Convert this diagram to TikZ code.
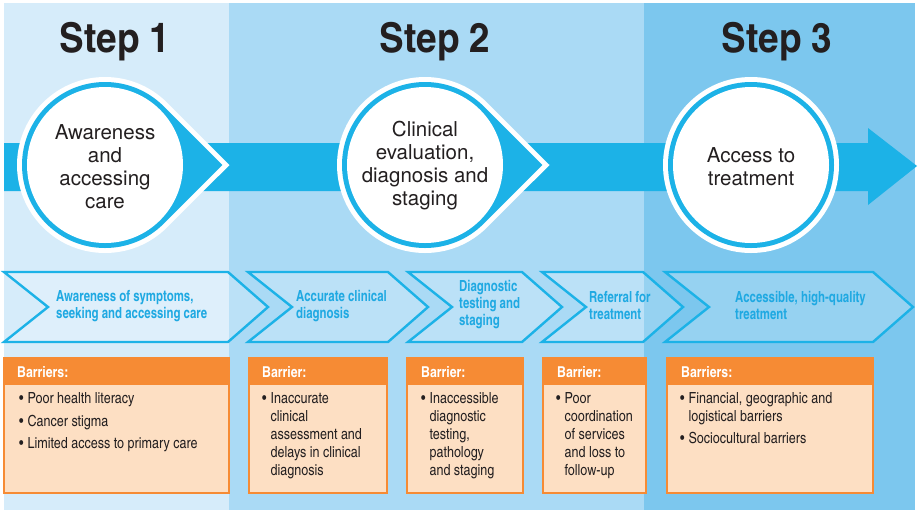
\documentclass[tikz,border=0pt]{standalone}
\usepackage{fontspec}
\setmainfont{TeX Gyre Heros}
\newfontfamily\cnfont{texgyreheroscn}[Extension=.otf,UprightFont=*-regular,BoldFont=*-bold]
\newfontfamily\cnnarrow{texgyreheroscn}[Extension=.otf,UprightFont=*-regular,BoldFont=*-bold,FakeStretch=0.91]
\newfontfamily\cnwide{texgyreheroscn}[Extension=.otf,UprightFont=*-regular,BoldFont=*-bold,FakeStretch=1.1]
\usetikzlibrary{positioning}

\definecolor{paneA}{HTML}{D6ECFA}
\definecolor{paneB}{HTML}{AADAF5}
\definecolor{paneC}{HTML}{7CC7EE}
\definecolor{flow}{HTML}{1CB2E7}
\definecolor{flowtext}{HTML}{1FA9E2}
\definecolor{barhead}{HTML}{F68B34}
\definecolor{barbody}{HTML}{FDDFC3}
\definecolor{ink}{HTML}{231F20}

\tikzset{
  steptitle/.style={anchor=base,inner sep=0,text=ink,font=\cnwide\bfseries\fontsize{41}{45}\selectfont},
  stage/.style={inner sep=0,align=center,text=ink,font=\fontsize{20.5}{23}\selectfont},
  phase/.style={draw=flow,line width=2.4pt,line join=miter,fill=white,fill opacity=0.2},
  phasetext/.style={anchor=west,inner sep=0,align=left,text=flowtext,font=\cnnarrow\bfseries\fontsize{15.3}{17}\selectfont},
  barrier/.style={fill=barbody,draw=barhead,line width=2pt},
  barhead/.style={fill=barhead},
  headtext/.style={anchor=west,inner sep=0,text=white,font=\cnfont\bfseries\fontsize{15}{17}\selectfont},
  items/.style={anchor=north west,inner sep=0,text=ink,font=\cnfont\fontsize{15.3}{18}\selectfont}
}
\newcommand{\itm}{\textbullet}

\begin{document}
\begin{tikzpicture}[x=1pt,y=-1pt]
\useasboundingbox (0,0) rectangle (921,515);
% background panels
\fill[paneA] (4,3) rectangle (229,510);
\fill[paneB] (229,3) rectangle (644,510);
\fill[paneC] (644,3) rectangle (915,510);

\node[steptitle] (t1) at (115,52) {Step 1};
\node[steptitle] (t2) at (435,52) {Step 2};
\node[steptitle] (t3) at (777,52) {Step 3};

% big arrow
\fill[flow] (4,143) -- (868,143) -- (868,128) -- (917,166) -- (868,205) -- (868,191) -- (4,191) -- cycle;

% circles with pointers
\foreach \c in {105,425} {
  \fill[white] (\c,165) ++(45:88) arc[start angle=45,end angle=315,radius=88] -- (\c+124.5,165) -- cycle;
  \fill[flow] (\c,165) ++(45:83) arc[start angle=45,end angle=315,radius=83] -- (\c+117.4,165) -- cycle;
  \fill[white] (\c,165) circle[radius=78];
}
\fill[white] (751,165) circle[radius=88];
\fill[flow] (751,165) circle[radius=83];
\fill[white] (751,165) circle[radius=78];

\node[stage] (c1) at (105,167) {Awareness\\and\\accessing\\care};
\node[stage] (c2) at (425,166) {Clinical\\evaluation,\\diagnosis and\\staging};
\node[stage] (c3) at (751,167) {Access to\\treatment};

% chevrons
\foreach \l/\r in {4/228, 248/388, 408/522, 542/643, 665/873}
  \filldraw[phase] (\l,272) -- (\r,272) -- (\r+40,307) -- (\r,342) -- (\l,342) -- (\l+44,307) -- cycle;

\node[phasetext] (p1) at (56,306) {Awareness of symptoms,\\seeking and accessing care};
\node[phasetext] (p2) at (296,306) {Accurate clinical\\diagnosis};
\node[phasetext] (p3) at (459,305) {Diagnostic\\testing and\\staging};
\node[phasetext] (p4) at (589,306) {Referral for\\treatment};
\node[phasetext] (p5) at (735,305) {Accessible, high-quality\\treatment};

% barrier boxes
\foreach \l/\w in {4/225, 249/138, 407/116, 543/103, 667/206} {
  \fill[barrier] (\l,358) rectangle (\l+\w,493);
  \fill[barhead] (\l,358) rectangle (\l+\w,385);
  \draw[barrier,fill=none] (\l,358) rectangle (\l+\w,493);
}

\node[headtext] (h1) at (17,372) {Barriers:};
\node[headtext] (h2) at (262,372) {Barrier:};
\node[headtext] (h3) at (421,372) {Barrier:};
\node[headtext] (h4) at (557,372) {Barrier:};
\node[headtext] (h5) at (681,372) {Barriers:};

\node[items] (i1) at (19,391) {\begin{tabular}{@{}l@{\hspace{4pt}}l@{}}
\itm & Poor health literacy\\[4.5pt]
\itm & Cancer stigma\\[4.5pt]
\itm & Limited access to primary care
\end{tabular}};
\node[items] (i2) at (262,391) {\begin{tabular}{@{}l@{\hspace{4pt}}l@{}}
\itm & Inaccurate\\ & clinical\\ & assessment and\\ & delays in clinical\\ & diagnosis
\end{tabular}};
\node[items] (i3) at (421,391) {\begin{tabular}{@{}l@{\hspace{4pt}}l@{}}
\itm & Inaccessible\\ & diagnostic\\ & testing,\\ & pathology\\ & and staging
\end{tabular}};
\node[items] (i4) at (556,391) {\begin{tabular}{@{}l@{\hspace{4pt}}l@{}}
\itm & Poor\\ & coordination\\ & of services\\ & and loss to\\ & follow-up
\end{tabular}};
\node[items] (i5) at (680,391) {\begin{tabular}{@{}l@{\hspace{4pt}}l@{}}
\itm & Financial, geographic and\\ & logistical barriers\\[4pt]
\itm & Sociocultural barriers
\end{tabular}};
\end{tikzpicture}
\end{document}
